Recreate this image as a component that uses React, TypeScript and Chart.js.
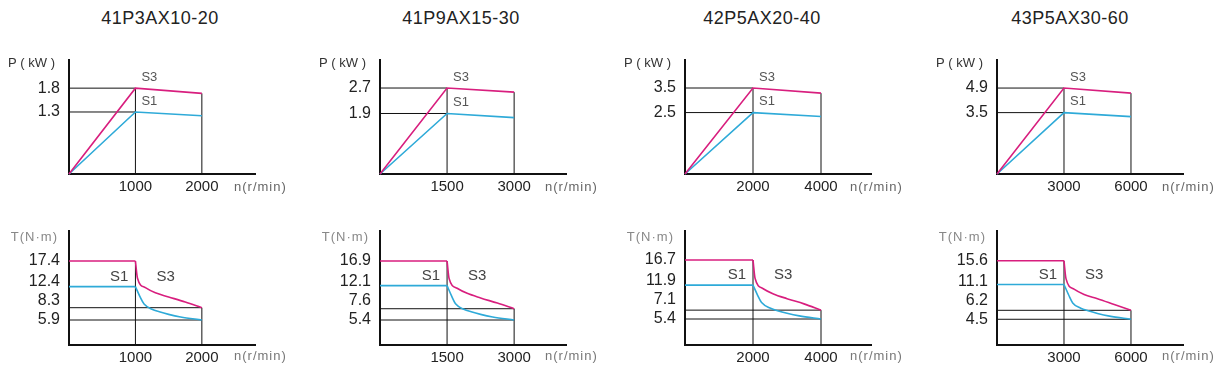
import React, { useEffect, useRef } from "react";
import { Chart, registerables } from "chart.js";

Chart.register(...registerables);

// ---------- data ----------
const models = ["41P3AX10-20", "41P9AX15-30", "42P5AX20-40", "43P5AX30-60"];
const ratedSpeed = [1000, 1500, 2000, 3000];
const maxSpeed = [2000, 3000, 4000, 6000];

const powerS3 = [1.8, 2.7, 3.5, 4.9];
const powerS1 = [1.3, 1.9, 2.5, 3.5];
const powerS3End = [1.69, 2.57, 3.29, 4.61];
const powerS1End = [1.22, 1.77, 2.34, 3.27];

const torqueS3 = [17.4, 16.9, 16.7, 15.6];
const torqueS1 = [12.4, 12.1, 11.9, 11.1];
const torqueS3End = [8.3, 7.6, 7.1, 6.2];
const torqueS1End = [5.9, 5.4, 5.4, 4.5];

const s3CurveSpeed = [
  [1030, 1150, 1300, 1500, 1750],
  [1545, 1725, 1950, 2250, 2625],
  [2060, 2300, 2600, 3000, 3500],
  [3090, 3450, 3900, 4500, 5250],
];
const s3CurveTorque = [
  [14.1, 12.2, 11.2, 10.4, 9.4],
  [13.5, 11.6, 10.6, 9.7, 8.7],
  [13.2, 11.2, 10.2, 9.3, 8.3],
  [12.2, 10.2, 9.2, 8.4, 7.3],
];
const s1CurveSpeed = [
  [1070, 1130, 1250, 1360, 1500, 1680],
  [1605, 1695, 1875, 2040, 2250, 2520],
  [2140, 2260, 2500, 2720, 3000, 3360],
  [3210, 3390, 3750, 4080, 4500, 5040],
];
const s1CurveTorque = [
  [10.4, 9.0, 8.0, 7.5, 7.0, 6.5],
  [10.0, 8.5, 7.5, 7.0, 6.5, 6.0],
  [9.9, 8.5, 7.5, 7.0, 6.5, 6.0],
  [9.1, 7.6, 6.6, 6.1, 5.6, 5.1],
];

// ---------- layout ----------
const COL_AXIS_X = [69, 380, 685, 997];
const COL_TITLE_X = [160, 461, 762, 1070];
const ROW_TOP = [60, 231];
const PLOT_W = 186;
const PLOT_H = 114;
const PAD_T = 28;
const PAD_R = 75;
const Y_AXIS_W = 70;
const X_AXIS_H = 25;
const X_MAX = [2800, 4160, 5470, 8330];
const P_MAX = [2.39, 3.58, 4.64, 6.5];
const T_MIN = [1.03, 0.53, 0.42, -0.38];
const T_MAX = [23.25, 22.75, 22.26, 21.24];
const LABEL_GAP = 19;

const PINK = "#d81e7e";
const BLUE = "#2eaad8";
const FONT = "'Liberation Sans', Arial, sans-serif";

const labelPlugin = {
  id: "panelLabels",
  afterDraw(chart: any, _args: any, opts: any) {
    const { ctx, scales, chartArea } = chart;
    const x = scales.x;
    const y = scales.y;
    ctx.save();
    // y value labels, kept apart so they do not collide
    const vals: number[] = [...(opts.yLabels || [])].sort((a, b) => a - b);
    let prev = Infinity;
    ctx.font = `16px ${FONT}`;
    ctx.fillStyle = "#222";
    ctx.textAlign = "right";
    ctx.textBaseline = "middle";
    for (const v of vals) {
      const p = Math.min(y.getPixelForValue(v), prev - LABEL_GAP);
      ctx.fillText(String(v), chartArea.left - 9, p);
      prev = p;
    }
    for (const l of opts.items || []) {
      ctx.font = l.font;
      ctx.fillStyle = l.color;
      ctx.textAlign = l.align;
      ctx.textBaseline = "middle";
      try {
        (ctx as any).letterSpacing = l.spacing || "0px";
      } catch (e) {}
      const px =
        l.anchorX === "left"
          ? chartArea.left + l.dx
          : l.anchorX === "right"
          ? chartArea.right + l.dx
          : x.getPixelForValue(l.x) + l.dx;
      const py =
        l.anchorY === "top"
          ? chartArea.top + l.dy
          : l.anchorY === "bottom"
          ? chartArea.bottom + l.dy
          : y.getPixelForValue(l.y) + l.dy;
      ctx.fillText(l.text, px, py);
    }
    ctx.restore();
  },
};

function line(points: { x: number; y: number }[], color: string, width: number, smooth = false) {
  return {
    data: points,
    showLine: true,
    borderColor: color,
    borderWidth: width,
    pointRadius: 0,
    tension: smooth ? 0.4 : 0,
    cubicInterpolationMode: smooth ? "monotone" : "default",
    fill: false,
    clip: false,
  };
}

function Panel({ col, kind }: { col: number; kind: "P" | "T" }) {
  const ref = useRef<HTMLCanvasElement>(null);
  const N = ratedSpeed[col];
  const N2 = maxSpeed[col];
  const w = Y_AXIS_W + PLOT_W + PAD_R;
  const h = PAD_T + PLOT_H + X_AXIS_H;
  const left = COL_AXIS_X[col] - Y_AXIS_W;
  const top = ROW_TOP[kind === "P" ? 0 : 1] - PAD_T;

  useEffect(() => {
    if (!ref.current) return;
    let datasets: any[] = [];
    let yMin = 0;
    let yMax = 0;
    let yLabels: number[] = [];
    let items: any[] = [];
    if (kind === "P") {
      const p3 = powerS3[col];
      const p1 = powerS1[col];
      yMin = 0;
      yMax = P_MAX[col];
      yLabels = [p1, p3];
      datasets = [
        line([{ x: 0, y: 0 }, { x: N, y: p3 }, { x: N2, y: powerS3End[col] }], PINK, 1.6),
        line([{ x: 0, y: 0 }, { x: N, y: p1 }, { x: N2, y: powerS1End[col] }], BLUE, 1.6),
        line([{ x: 0, y: p3 }, { x: N, y: p3 }], "#111", 1),
        line([{ x: 0, y: p1 }, { x: N, y: p1 }], "#111", 1),
        line([{ x: N, y: 0 }, { x: N, y: p3 }], "#111", 1),
        line([{ x: N2, y: 0 }, { x: N2, y: powerS3End[col] }], "#111", 1),
      ];
      items = [
        { text: "P ( kW )", font: `13px ${FONT}`, color: "#333", align: "right", anchorX: "left", dx: -14, anchorY: "top", dy: 3 },
        { text: "S3", font: `13px ${FONT}`, color: "#555", align: "left", x: N, dx: 6, y: p3, dy: -11 },
        { text: "S1", font: `13px ${FONT}`, color: "#555", align: "left", x: N, dx: 6, y: p1, dy: -11 },
        { text: "n(r/min)", font: `13px ${FONT}`, color: "#666", align: "left", anchorX: "right", dx: -21, anchorY: "bottom", dy: 13, spacing: "1px" },
      ];
    } else {
      const t3 = torqueS3[col];
      const t1 = torqueS1[col];
      yMin = T_MIN[col];
      yMax = T_MAX[col];
      yLabels = [torqueS1End[col], torqueS3End[col], t1, t3];
      const s3pts = [{ x: N, y: t3 }];
      s3CurveSpeed[col].forEach((s, i) => s3pts.push({ x: s, y: s3CurveTorque[col][i] }));
      s3pts.push({ x: N2, y: torqueS3End[col] });
      const s1pts = [{ x: N, y: t1 }];
      s1CurveSpeed[col].forEach((s, i) => s1pts.push({ x: s, y: s1CurveTorque[col][i] }));
      s1pts.push({ x: N2, y: torqueS1End[col] });
      datasets = [
        line([{ x: 0, y: t3 }, { x: N, y: t3 }], PINK, 1.6),
        line(s3pts, PINK, 1.6, true),
        line([{ x: 0, y: t1 }, { x: N, y: t1 }], BLUE, 1.6),
        line(s1pts, BLUE, 1.6, true),
        line([{ x: 0, y: torqueS3End[col] }, { x: N2, y: torqueS3End[col] }], "#111", 1),
        line([{ x: 0, y: torqueS1End[col] }, { x: N2, y: torqueS1End[col] }], "#111", 1),
        line([{ x: N, y: yMin }, { x: N, y: t3 }], "#111", 1),
        line([{ x: N2, y: yMin }, { x: N2, y: torqueS3End[col] }], "#111", 1),
      ];
      items = [
        { text: "T(N·m)", font: `13px ${FONT}`, color: "#888", align: "right", anchorX: "left", dx: -11, anchorY: "top", dy: 6, spacing: "1px" },
        { text: "S1", font: `15px ${FONT}`, color: "#444", align: "right", x: N, dx: -7, y: t1, dy: -10 },
        { text: "S3", font: `15px ${FONT}`, color: "#444", align: "left", x: N, dx: 21, y: t1, dy: -10 },
        { text: "n(r/min)", font: `13px ${FONT}`, color: "#777", align: "left", anchorX: "right", dx: -21, anchorY: "bottom", dy: 11, spacing: "1px" },
      ];
    }

    const chart = new Chart(ref.current, {
      type: "scatter",
      data: { datasets },
      plugins: [labelPlugin],
      options: {
        animation: false,
        responsive: false,
        maintainAspectRatio: false,
        events: [],
        layout: { padding: { top: PAD_T, right: PAD_R, left: 0, bottom: 0 } },
        plugins: {
          legend: { display: false },
          tooltip: { enabled: false },
          panelLabels: { items, yLabels },
        } as any,
        scales: {
          x: {
            type: "linear",
            min: 0,
            max: X_MAX[col],
            afterBuildTicks: (s: any) => {
              s.ticks = [{ value: N }, { value: N2 }];
            },
            afterFit: (s: any) => {
              s.height = X_AXIS_H;
            },
            grid: { display: false, drawTicks: false },
            border: { display: true, color: "#111", width: 2 },
            ticks: {
              padding: 4,
              color: "#222",
              maxRotation: 0,
              autoSkip: false,
              font: { family: FONT, size: 15 },
              callback: (v: any) => String(v),
            },
          },
          y: {
            type: "linear",
            min: yMin,
            max: yMax,
            afterBuildTicks: (s: any) => {
              s.ticks = yLabels.map((v) => ({ value: v }));
            },
            afterFit: (s: any) => {
              s.width = Y_AXIS_W;
            },
            grid: { display: false, drawTicks: false },
            border: { display: true, color: "#111", width: 2 },
            ticks: { display: false },
          },
        },
      } as any,
    });
    return () => chart.destroy();
  }, [col, kind]);

  return (
    <canvas
      ref={ref}
      width={w}
      height={h}
      style={{ position: "absolute", left, top, width: w, height: h }}
    />
  );
}

export default function App() {
  return (
    <div
      style={{
        position: "absolute",
        left: 0,
        top: 0,
        width: 1228,
        height: 366,
        background: "#fff",
        overflow: "hidden",
        fontFamily: FONT,
      }}
    >
      {models.map((m, i) => (
        <div
          key={m}
          style={{
            position: "absolute",
            left: COL_TITLE_X[i] - 150,
            top: 7,
            width: 300,
            textAlign: "center",
            fontSize: 18,
            lineHeight: "22px",
            color: "#222",
            letterSpacing: "0.5px",
          }}
        >
          {m}
        </div>
      ))}
      {[0, 1, 2, 3].map((c) => (
        <Panel key={"p" + c} col={c} kind="P" />
      ))}
      {[0, 1, 2, 3].map((c) => (
        <Panel key={"t" + c} col={c} kind="T" />
      ))}
    </div>
  );
}
